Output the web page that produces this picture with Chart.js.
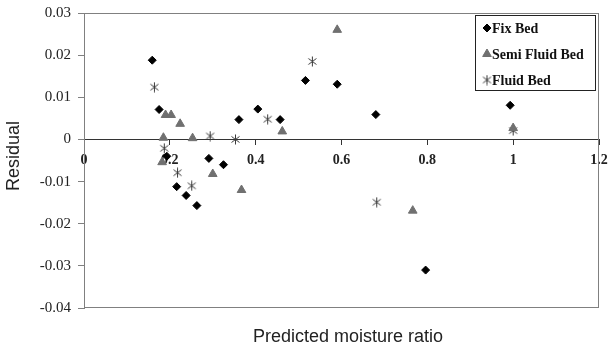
<!DOCTYPE html>
<html>
<head>
<meta charset="utf-8">
<script src="https://cdn.jsdelivr.net/npm/chart.js@4.4.0/dist/chart.umd.min.js"></script>
<style>
  html, body { margin: 0; padding: 0; background: #fff; }
  #wrap { width: 608px; height: 350px; }
</style>
</head>
<body>
<div id="wrap"><canvas id="myChartResidual" width="608" height="350"></canvas></div>
<script>
// valores
var fixX = [0.159, 0.175, 0.193, 0.216, 0.238, 0.263, 0.291, 0.325, 0.361, 0.405, 0.457, 0.516, 0.590, 0.680, 0.796, 0.993];
var fixY = [0.0188, 0.0071, -0.0040, -0.0112, -0.0133, -0.0157, -0.0045, -0.0060, 0.0047, 0.0072, 0.0047, 0.0140, 0.0131, 0.0059, -0.0310, 0.0081];

var semiX = [0.182, 0.185, 0.190, 0.203, 0.224, 0.253, 0.300, 0.367, 0.462, 0.590, 0.766, 1.000];
var semiY = [-0.0054, 0.0004, 0.0058, 0.0058, 0.0037, 0.0003, -0.0082, -0.0120, 0.0019, 0.0260, -0.0169, 0.0027];

var fluidX = [0.164, 0.187, 0.218, 0.251, 0.294, 0.353, 0.428, 0.532, 0.682, 1.000];
var fluidY = [0.0124, -0.0021, -0.0079, -0.0110, 0.0008, 0.0000, 0.0048, 0.0185, -0.0149, 0.0021];

var seriesNames = ['Fix Bed', 'Semi Fluid Bed', 'Fluid Bed'];

var xTickValues = [0, 0.2, 0.4, 0.6, 0.8, 1, 1.2];
var xTickLabels = ['0', '0.2', '0.4', '0.6', '0.8', '1', '1.2'];
var yTickValues = [-0.04, -0.03, -0.02, -0.01, 0, 0.01, 0.02, 0.03];
var yTickLabels = ['-0.04', '-0.03', '-0.02', '-0.01', '0', '0.01', '0.02', '0.03'];

var xTitle = 'Predicted moisture ratio';
var yTitle = 'Residual';

function toPoints(xs, ys) {
    return xs.map(function (x, i) { return { x: x, y: ys[i] }; });
}

// marcador tipo asterisco (X con linea vertical)
function makeStar() {
    var c = document.createElement('canvas');
    c.width = 11;
    c.height = 11;
    var g = c.getContext('2d');
    g.strokeStyle = '#3a3a3a';
    g.lineWidth = 1;
    g.beginPath();
    g.moveTo(1.5, 2.5); g.lineTo(9.5, 8.5);
    g.moveTo(9.5, 2.5); g.lineTo(1.5, 8.5);
    g.moveTo(5.5, 0.5); g.lineTo(5.5, 10.5);
    g.stroke();
    return c;
}
var starImg = makeStar();

var serif = "'Liberation Serif', 'Times New Roman', serif";
var sans = "'Liberation Sans', Arial, sans-serif";

var framePlugin = {
    id: 'frame',
    beforeDatasetsDraw: function (chart) {
        var a = chart.chartArea, ctx = chart.ctx;
        ctx.save();
        ctx.strokeStyle = '#808080';
        ctx.lineWidth = 1;
        ctx.strokeRect(a.left + 0.5, a.top + 0.5, a.right - a.left - 1, a.bottom - a.top - 1);
        ctx.restore();
    },
    afterDraw: function (chart) {
        var ctx = chart.ctx;
        ctx.save();
        // titulos de ejes
        ctx.fillStyle = '#222';
        ctx.font = '18px ' + sans;
        ctx.textAlign = 'center';
        ctx.textBaseline = 'middle';
        ctx.fillText(xTitle, 348, 337);
        ctx.translate(14, 156);
        ctx.rotate(-Math.PI / 2);
        ctx.fillText(yTitle, 0, 0);
        ctx.restore();

        // leyenda
        ctx.save();
        ctx.fillStyle = '#fff';
        ctx.fillRect(475, 15, 120, 75);
        ctx.strokeStyle = '#222';
        ctx.lineWidth = 1;
        ctx.strokeRect(475.5, 15.5, 120, 75);
        var rows = [28, 54, 80];
        chart.data.datasets.forEach(function (ds, i) {
            var y = rows[i];
            if (ds.pointStyle === starImg) {
                ctx.drawImage(starImg, 487 - 5.5, y - 5.5);
            } else {
                ctx.fillStyle = ds.backgroundColor;
                ctx.strokeStyle = ds.borderColor;
                Chart.helpers.drawPoint(ctx, { pointStyle: ds.pointStyle, radius: ds.pointRadius, borderWidth: 1 }, 487, y);
            }
            ctx.fillStyle = '#111';
            ctx.font = 'bold 14px ' + serif;
            ctx.textAlign = 'left';
            ctx.textBaseline = 'middle';
            ctx.fillText(ds.label, 492, y + 1);
        });
        ctx.restore();
    }
};

var ctx = document.getElementById('myChartResidual').getContext('2d');
var mychart = new Chart(ctx, {
    type: 'scatter',
    data: {
        datasets: [{
            label: seriesNames[0],
            data: toPoints(fixX, fixY),
            pointStyle: 'rectRot',
            pointRadius: 4,
            backgroundColor: '#000',
            borderColor: '#000',
            borderWidth: 1
        }, {
            label: seriesNames[1],
            data: toPoints(semiX, semiY),
            pointStyle: 'triangle',
            pointRadius: 5,
            backgroundColor: '#707070',
            borderColor: '#707070',
            borderWidth: 1
        }, {
            label: seriesNames[2],
            data: toPoints(fluidX, fluidY),
            pointStyle: starImg,
            pointRadius: 5,
            backgroundColor: '#3a3a3a',
            borderColor: '#3a3a3a'
        }]
    },
    options: {
        responsive: false,
        animation: false,
        layout: { padding: { top: 13, right: 9, bottom: 42, left: 0 } },
        plugins: {
            legend: { display: false },
            tooltip: { enabled: false }
        },
        scales: {
            x: {
                type: 'linear',
                position: { y: 0 },
                min: 0,
                max: 1.2,
                afterBuildTicks: function (scale) {
                    scale.ticks = xTickValues.map(function (v) { return { value: v }; });
                },
                afterFit: function (scale) {
                    scale.paddingLeft = 0;
                    scale.paddingRight = 0;
                },
                ticks: {
                    color: '#222',
                    padding: 8,
                    maxRotation: 0,
                    font: { family: serif, size: 14, weight: 'bold' },
                    callback: function (val, i) { return xTickLabels[i]; }
                },
                grid: { drawOnChartArea: false, drawTicks: true, tickLength: 5, color: '#333' },
                border: { color: '#333', width: 1 }
            },
            y: {
                type: 'linear',
                min: -0.04,
                max: 0.03,
                afterBuildTicks: function (scale) {
                    scale.ticks = yTickValues.map(function (v) { return { value: v }; });
                },
                afterFit: function (scale) {
                    scale.width = 84;
                    scale.paddingTop = 0;
                    scale.paddingBottom = 0;
                },
                ticks: {
                    color: '#222',
                    padding: 7,
                    font: { family: serif, size: 15 },
                    callback: function (val, i) { return yTickLabels[i]; }
                },
                grid: { drawOnChartArea: false, drawTicks: true, tickLength: 6, color: '#808080' },
                border: { color: '#808080', width: 1 }
            }
        }
    },
    plugins: [framePlugin]
});
</script>
</body>
</html>
